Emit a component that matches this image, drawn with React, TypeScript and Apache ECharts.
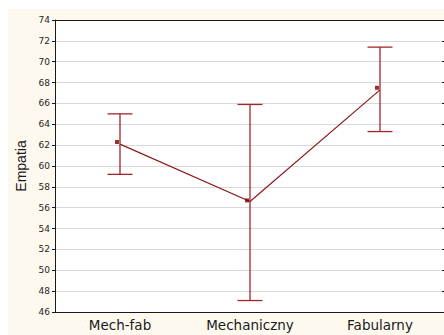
import React, { useEffect, useRef } from "react";
import * as echarts from "echarts";

const categories = ["Mech-fab", "Mechaniczny", "Fabularny"];
const lineValues = [62.1, 56.6, 67.3];
const meanValues = [62.3, 56.7, 67.5];
const lowValues = [59.2, 47.1, 63.3];
const highValues = [65.0, 65.9, 71.4];
const yTicks = { min: 46, max: 74, interval: 2 };
const yName = "Empatia";

export default function App() {
  const ref = useRef<HTMLDivElement>(null);
  useEffect(() => {
    if (!ref.current) return;
    const chart = echarts.init(ref.current, null, { renderer: "svg" });
    const errData = categories.map((_, i) => [i, lowValues[i], highValues[i]]);
    const tickFont = { fontFamily: "DejaVu Sans", fontSize: 9, color: "#262626" };
    chart.setOption({
      animation: false,
      backgroundColor: "#ffffff",
      graphic: [
        {
          type: "rect",
          z: -10,
          silent: true,
          shape: { x: 8, y: 9, width: 440, height: 330 },
          style: { fill: "#fdf9ef" },
        },
      ],
      grid: {
        left: 55,
        top: 20,
        right: 1,
        bottom: 23,
        show: true,
        backgroundColor: "#ffffff",
        borderWidth: 0,
      },
      xAxis: [
        {
          type: "category",
          data: categories,
          boundaryGap: true,
          axisLine: { lineStyle: { color: "#1a1a1a", width: 1 } },
          axisTick: { inside: true, length: 4, alignWithLabel: true, lineStyle: { color: "#1a1a1a" } },
          axisLabel: { fontFamily: "DejaVu Sans", fontSize: 13.5, color: "#1a1a1a", margin: 6 },
          splitLine: { show: false },
        },
        {
          type: "category",
          data: categories,
          position: "top",
          boundaryGap: true,
          axisLine: { lineStyle: { color: "#1a1a1a", width: 1 } },
          axisTick: { inside: true, length: 4, alignWithLabel: true, lineStyle: { color: "#1a1a1a" } },
          axisLabel: { show: false },
        },
      ],
      yAxis: [
        {
          type: "value",
          min: yTicks.min,
          max: yTicks.max,
          interval: yTicks.interval,
          name: yName,
          nameLocation: "middle",
          nameGap: 25,
          nameTextStyle: { fontFamily: "Liberation Sans", fontSize: 14, color: "#1a1a1a" },
          axisLine: { show: true, lineStyle: { color: "#1a1a1a", width: 1 } },
          axisTick: { show: true, length: 3, lineStyle: { color: "#1a1a1a" } },
          axisLabel: { ...tickFont, margin: 5 },
          splitLine: { show: true, lineStyle: { color: "#d9d9d9", width: 1 } },
        },
        {
          type: "value",
          position: "right",
          min: yTicks.min,
          max: yTicks.max,
          interval: yTicks.interval,
          axisLine: { show: true, lineStyle: { color: "#1a1a1a", width: 1 } },
          axisTick: { show: true, inside: true, length: 3, lineStyle: { color: "#1a1a1a" } },
          axisLabel: { show: false },
          splitLine: { show: false },
        },
      ],
      series: [
        {
          type: "line",
          data: lineValues,
          showSymbol: false,
          symbol: "none",
          lineStyle: { color: "#8b1a1a", width: 1.2 },
          z: 3,
        },
        {
          type: "custom",
          data: errData,
          z: 4,
          renderItem: (params: any, api: any) => {
            const x = api.value(0);
            const lo = api.coord([x, api.value(1)]);
            const hi = api.coord([x, api.value(2)]);
            const hw = 12.5;
            const style = { stroke: "#a3262a", lineWidth: 1.3 };
            return {
              type: "group",
              children: [
                { type: "line", shape: { x1: hi[0], y1: hi[1], x2: lo[0], y2: lo[1] }, style },
                { type: "line", shape: { x1: hi[0] - hw, y1: hi[1], x2: hi[0] + hw, y2: hi[1] }, style },
                { type: "line", shape: { x1: lo[0] - hw, y1: lo[1], x2: lo[0] + hw, y2: lo[1] }, style },
              ],
            };
          },
        },
        {
          type: "scatter",
          data: meanValues,
          symbol: "rect",
          symbolSize: 4,
          symbolOffset: [-3, 0],
          itemStyle: { color: "#7a0000" },
          z: 5,
        },
      ],
    });
    return () => chart.dispose();
  }, []);
  return (
    <div
      ref={ref}
      style={{ position: "fixed", left: 0, top: 0, width: 446, height: 335 }}
    />
  );
}
